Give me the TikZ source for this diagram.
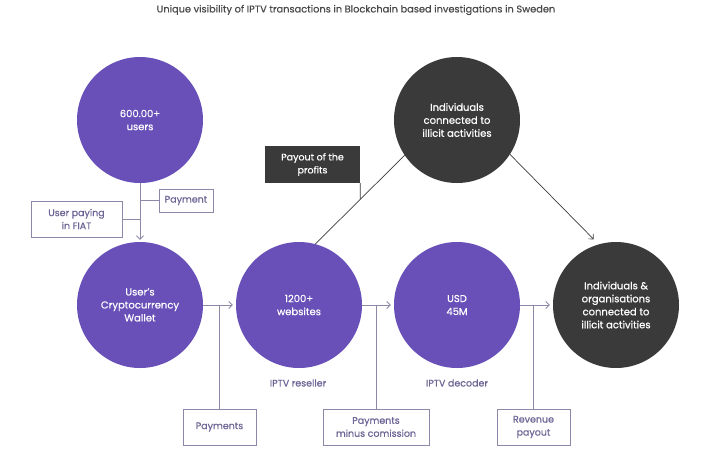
\documentclass[tikz,border=0pt]{standalone}
\usepackage{fontspec}
\setmainfont{Poppins}[FakeBold=0.6]
\usetikzlibrary{arrows.meta}
\definecolor{purp}{HTML}{6850B8}
\definecolor{dark}{HTML}{3A3A3A}
\definecolor{edgec}{HTML}{8E88A8}
\definecolor{boxtxt}{HTML}{6C6494}
\definecolor{titlec}{HTML}{4A4A4A}
\begin{document}
\begin{tikzpicture}[x=1pt,y=-1pt,
 circ/.style={circle,minimum size=126pt,inner sep=0pt,text=white,align=center,font=\fontsize{10}{13}\selectfont},
 pcirc/.style={circ,fill=purp},
 dcirc/.style={circ,fill=dark},
 lbox/.style={draw=edgec,line width=0.8pt,text=boxtxt,align=center,font=\fontsize{9.5}{13}\selectfont,inner sep=0pt,minimum height=36pt},
 dbox/.style={fill=dark,text=white,align=center,font=\fontsize{9.5}{13}\selectfont,inner sep=0pt,minimum height=37pt,minimum width=95pt},
 lbl/.style={text=boxtxt,font=\fontsize{9.5}{12}\selectfont},
 conn/.style={draw=edgec,line width=0.8pt},
 arr/.style={conn,-{Straight Barb[length=3.5pt,width=7pt]}},
]
\useasboundingbox (0,0) rectangle (710,456);
\node[text=titlec,font=\fontsize{9.8}{11}\selectfont] (title) at (356,10) {Unique visibility of IPTV transactions in Blockchain based investigations in Sweden};

\node[pcirc] (users) at (140,120) {600.00+\\users};
\node[pcirc] (wallet) at (140,305) {User's\\Cryptocurrency\\Wallet};
\node[pcirc] (web) at (299,305) {1200+\\websites};
\node[pcirc] (dec) at (457,305) {USD\\45M};
\node[dcirc] (ind) at (457,120) {Individuals\\connected to\\illicit activities};
\node[dcirc] (org) at (616,305) {Individuals \&\\organisations\\connected to\\illicit activities};

\node[lbox,minimum width=54pt,minimum height=23pt] (pay) at (186,200.5) {Payment};
\node[lbox,minimum width=91pt] (fiat) at (76.5,219) {User paying\\in FIAT};
\node[lbox,minimum width=73pt] (pays) at (219.5,427) {Payments};
\node[lbox,minimum width=106pt] (minus) at (376,427) {Payments\\minus comission};
\node[lbox,minimum width=73pt] (rev) at (533.5,427) {Revenue\\payout};
\node[dbox] (payout) at (312.5,164.5) {Payout of the\\profits};

\node[lbl] (resl) at (298,383) {IPTV reseller};
\node[lbl] (decl) at (457,383) {IPTV decoder};

\draw[arr] (users.south) -- ([yshift=2pt]wallet.north);
\draw[conn] (pay.west) -- (pay.west -| users.south);
\draw[conn] (fiat.east) -- (fiat.east -| users.south);

\draw[arr] (wallet.east) -- ([xshift=-3pt]web.west);
\draw[conn] (pays.north) -- (pays.north |- wallet.east);
\draw[arr] (web.east) -- ([xshift=-3pt]dec.west);
\draw[conn] (minus.north) -- (minus.north |- web.east);
\draw[arr] (dec.east) -- ([xshift=-3pt]org.west);
\draw[conn] (rev.north) -- (rev.north |- dec.east);

\draw[conn,draw=dark,line width=0.7pt] (ind.214) -- (web.75);
\draw[conn,draw=dark,line width=0.7pt] (payout.south east) -- (intersection of ind.214--web.75 and payout.south east--payout.north east);
\draw[arr,draw=dark,line width=0.7pt,shorten >=7pt] (ind.-33) -- (org.106);
\end{tikzpicture}
\end{document}
